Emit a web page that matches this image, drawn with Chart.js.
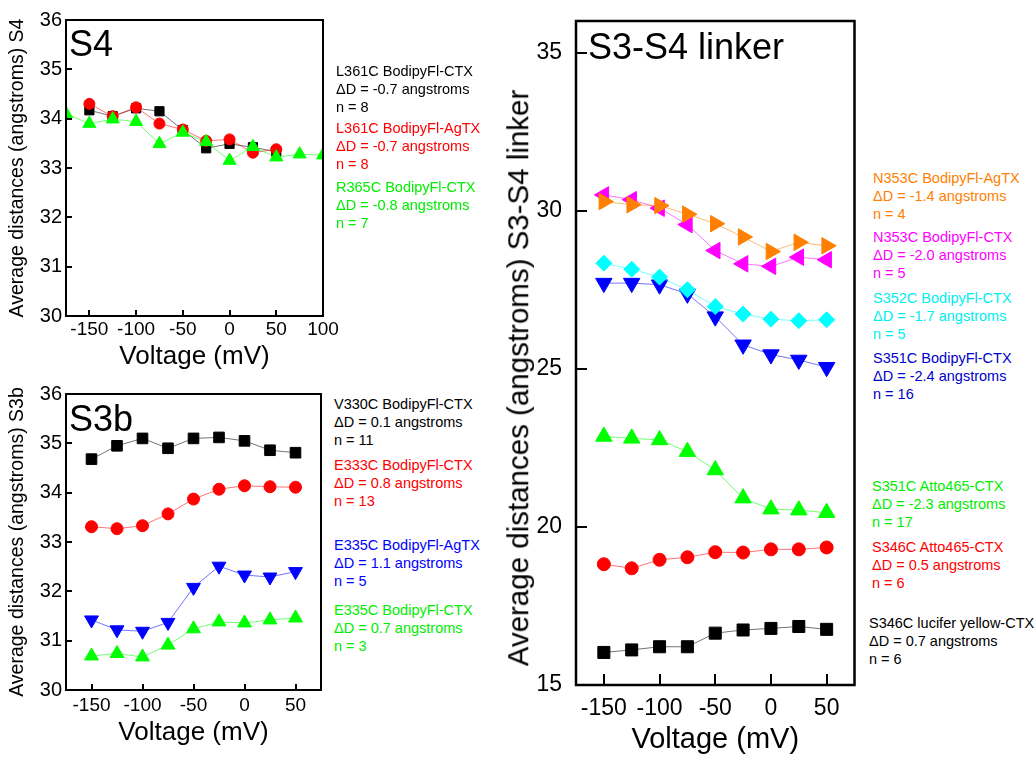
<!DOCTYPE html>
<html lang="en">
<head>
<meta charset="UTF-8">
<title>Average distances vs voltage</title>
<script src="https://cdn.jsdelivr.net/npm/chart.js"></script>
<style>
    body { margin: 0; background: #fff; font-family: "Liberation Sans", Arial, sans-serif; }
    #page { position: relative; width: 1036px; height: 760px; overflow: hidden; }
    canvas { position: absolute; }
    .tag { position: absolute; font-size: 36px; line-height: 36px; white-space: nowrap; color: #000; }
    .note { position: absolute; font-size: 14.5px; line-height: 18px; white-space: nowrap; }
    .ytitle { position: absolute; font-size: 29.5px; line-height: 1; white-space: nowrap; color: #000;
              transform: translate(-50%, -50%) rotate(-90deg); }
</style>
</head>
<body>
<div id="page">
    <canvas id="s4Chart" width="345" height="370" style="left:0;top:0"></canvas>
    <canvas id="s3bChart" width="330" height="390" style="left:0;top:370px"></canvas>
    <canvas id="linkerChart" width="375" height="760" style="left:490px;top:0"></canvas>

    <!-- panel labels -->
    <div class="tag" style="left:69px;top:26px">S4</div>
    <div class="tag" style="left:69px;top:401px">S3b</div>
    <div class="tag" style="left:588px;top:29px">S3-S4 linker</div>
    <div class="ytitle" style="left:518px;top:378px">Average distances (angstroms) S3-S4 linker</div>

    <!-- S4 notes -->
    <div class="note" style="left:336px;top:62px;color:#000">L361C BodipyFl-CTX<br>&Delta;D = -0.7 angstroms<br>n = 8</div>
    <div class="note" style="left:336px;top:119px;color:#ff0000">L361C BodipyFl-AgTX<br>&Delta;D = -0.7 angstroms<br>n = 8</div>
    <div class="note" style="left:336px;top:178px;color:#00ee00">R365C BodipyFl-CTX<br>&Delta;D = -0.8 angstroms<br>n = 7</div>

    <!-- S3b notes -->
    <div class="note" style="left:334px;top:395px;color:#000">V330C BodipyFl-CTX<br>&Delta;D = 0.1 angstroms<br>n = 11</div>
    <div class="note" style="left:334px;top:456px;color:#ff0000">E333C BodipyFl-CTX<br>&Delta;D = 0.8 angstroms<br>n = 13</div>
    <div class="note" style="left:334px;top:536px;color:#0000ff">E335C BodipyFl-AgTX<br>&Delta;D = 1.1 angstroms<br>n = 5</div>
    <div class="note" style="left:334px;top:601px;color:#00ee00">E335C BodipyFl-CTX<br>&Delta;D = 0.7 angstroms<br>n = 3</div>

    <!-- S3-S4 linker notes -->
    <div class="note" style="left:873px;top:169px;color:#ff8000">N353C BodipyFl-AgTX<br>&Delta;D = -1.4 angstroms<br>n = 4</div>
    <div class="note" style="left:873px;top:228px;color:#ff00ff">N353C BodipyFl-CTX<br>&Delta;D = -2.0 angstroms<br>n = 5</div>
    <div class="note" style="left:873px;top:289px;color:#00eeee">S352C BodipyFl-CTX<br>&Delta;D = -1.7 angstroms<br>n = 5</div>
    <div class="note" style="left:873px;top:349px;color:#0000cc">S351C BodipyFl-CTX<br>&Delta;D = -2.4 angstroms<br>n = 16</div>
    <div class="note" style="left:872px;top:477px;color:#00ee00">S351C Atto465-CTX<br>&Delta;D = -2.3 angstroms<br>n = 17</div>
    <div class="note" style="left:872px;top:538px;color:#ff0000">S346C Atto465-CTX<br>&Delta;D = 0.5 angstroms<br>n = 6</div>
    <div class="note" style="left:869px;top:614px;color:#000">S346C lucifer yellow-CTX<br>&Delta;D = 0.7 angstroms<br>n = 6</div>
</div>

<script>
    const FONT = '"Liberation Sans", Arial, sans-serif';

    // voltages (mV)
    const volts = [-150, -125, -100, -75, -50, -25, 0, 25, 50];
    const voltsWide = [-175, -150, -125, -100, -75, -50, -25, 0, 25, 50, 75, 100];

    // S4 panel
    const s4L361cCtx = [34.17, 34.05, 34.21, 34.15, 33.77, 33.40, 33.49, 33.42, 33.33];
    const s4L361cAgtx = [34.30, 34.05, 34.23, 33.90, 33.78, 33.55, 33.58, 33.31, 33.38];
    const s4R365cCtx = [34.10, 33.90, 33.99, 33.94, 33.49, 33.72, 33.53, 33.15, 33.43, 33.22, 33.28, 33.26];

    // S3b panel
    const s3bV330cCtx = [34.68, 34.95, 35.10, 34.90, 35.10, 35.12, 35.05, 34.86, 34.81];
    const s3bE333cCtx = [33.31, 33.27, 33.33, 33.57, 33.87, 34.07, 34.14, 34.12, 34.11];
    const s3bE335cAgtx = [31.42, 31.22, 31.19, 31.37, 32.08, 32.51, 32.33, 32.29, 32.40];
    const s3bE335cCtx = [30.69, 30.74, 30.67, 30.91, 31.24, 31.38, 31.36, 31.42, 31.46];

    // S3-S4 linker panel
    const lkN353cAgtx = [30.29, 30.19, 30.16, 29.89, 29.59, 29.17, 28.71, 29.00, 28.89];
    const lkN353cCtx = [30.50, 30.35, 30.08, 29.56, 28.74, 28.32, 28.24, 28.53, 28.45];
    const lkS352cCtx = [28.34, 28.15, 27.90, 27.50, 26.97, 26.73, 26.57, 26.52, 26.55];
    const lkS351cCtx = [27.71, 27.71, 27.66, 27.37, 26.65, 25.76, 25.45, 25.28, 25.05];
    const lkS351cAtto = [22.86, 22.80, 22.75, 22.38, 21.80, 20.91, 20.56, 20.53, 20.45];
    const lkS346cAtto = [18.82, 18.69, 18.96, 19.04, 19.20, 19.19, 19.29, 19.29, 19.35];
    const lkS346cLy = [16.03, 16.11, 16.21, 16.21, 16.64, 16.74, 16.79, 16.85, 16.76];

    // tick labels
    const s4XTicks = [-150, -100, -50, 0, 50, 100];
    const s3bXTicks = [-150, -100, -50, 0, 50];
    const linkerXTicks = [-150, -100, -50, 0, 50];
    const smallYTicks = [30, 31, 32, 33, 34, 35, 36];
    const linkerYTicks = [15, 20, 25, 30, 35];

    function fade(hex, a) {
        const n = parseInt(hex.slice(1), 16);
        return `rgba(${(n >> 16) & 255}, ${(n >> 8) & 255}, ${n & 255}, ${a})`;
    }

    function dots(label, xs, ys, color, style, radius, rotation) {
        return {
            label: label,
            data: xs.map((v, i) => ({ x: v, y: ys[i] })),
            showLine: true,
            borderColor: fade(color, 0.55),
            borderWidth: 1,
            pointStyle: style,
            pointRadius: radius,
            pointRotation: rotation || 0,
            pointBackgroundColor: color,
            pointBorderColor: color,
            pointBorderWidth: 1,
            tension: 0
        };
    }

    // box around the plot + inward tick marks
    const frame = {
        id: 'frame',
        afterDraw(chart, args, opts) {
            const { ctx, chartArea: a } = chart;
            const xs = chart.scales.x, ys = chart.scales.y;
            const len = opts.tickLen || 6;
            ctx.save();
            ctx.strokeStyle = '#000';
            ctx.lineWidth = 2;
            ctx.beginPath();
            xs.ticks.forEach(t => {
                const px = Math.round(xs.getPixelForValue(t.value));
                ctx.moveTo(px, a.bottom);
                ctx.lineTo(px, a.bottom - len);
            });
            ys.ticks.forEach(t => {
                const py = Math.round(ys.getPixelForValue(t.value));
                ctx.moveTo(a.left, py);
                ctx.lineTo(a.left + len, py);
            });
            ctx.stroke();
            ctx.lineWidth = opts.lineWidth || 2;
            ctx.strokeRect(a.left, a.top, a.right - a.left, a.bottom - a.top);
            ctx.restore();
        }
    };

    function makePanel(id, p) {
        return new Chart(document.getElementById(id), {
            type: 'scatter',
            data: { datasets: p.datasets },
            options: {
                responsive: false,
                animation: false,
                events: [],
                layout: { padding: { left: 0, top: p.padTop, right: p.padRight, bottom: 0 } },
                plugins: {
                    legend: { display: false },
                    tooltip: { enabled: false },
                    frame: { tickLen: p.tickLen, lineWidth: p.frameWidth }
                },
                scales: {
                    x: {
                        type: 'linear',
                        min: p.xMin,
                        max: p.xMax,
                        afterBuildTicks: s => { s.ticks = p.xTicks.map(v => ({ value: v })); },
                        afterFit: s => { s.height = p.xH; s.paddingLeft = 0; s.paddingRight = 0; },
                        grid: { display: false, drawTicks: false },
                        border: { display: false },
                        ticks: {
                            color: '#000',
                            font: { family: FONT, size: p.xTickSize, lineHeight: 1 },
                            padding: p.xTickPad,
                            maxRotation: 0,
                            autoSkip: false,
                            callback: v => String(v)
                        },
                        title: {
                            display: true,
                            text: 'Voltage (mV)',
                            color: '#000',
                            font: { family: FONT, size: p.xTitleSize, lineHeight: 1 },
                            padding: { top: 0, bottom: p.xTitlePad }
                        }
                    },
                    y: {
                        type: 'linear',
                        min: p.yMin,
                        max: p.yMax,
                        afterBuildTicks: s => { s.ticks = p.yTicks.map(v => ({ value: v })); },
                        afterFit: s => { s.width = p.yW; s.paddingTop = 0; s.paddingBottom = 0; },
                        grid: { display: false, drawTicks: false },
                        border: { display: false },
                        ticks: {
                            color: '#000',
                            font: { family: FONT, size: p.yTickSize, lineHeight: 1 },
                            padding: p.yTickPad,
                            autoSkip: false,
                            callback: v => String(v)
                        },
                        title: {
                            display: !!p.yTitle,
                            text: p.yTitle || '',
                            color: '#000',
                            font: { family: FONT, size: 19.5, lineHeight: 1 },
                            padding: { top: 8, bottom: 0 }
                        }
                    }
                }
            },
            plugins: [frame]
        });
    }

    makePanel('s4Chart', {
        datasets: [
            dots('R365C BodipyFl-CTX', voltsWide, s4R365cCtx, '#00ff00', 'triangle', 7.5),
            dots('L361C BodipyFl-AgTX', volts, s4L361cAgtx, '#ff0000', 'circle', 5.5),
            dots('L361C BodipyFl-CTX', volts, s4L361cCtx, '#000000', 'rect', 6.5)
        ],
        xMin: -175, xMax: 100, xTicks: s4XTicks,
        yMin: 30, yMax: 36, yTicks: smallYTicks,
        yTitle: 'Average distances (angstroms) S4',
        padTop: 20, padRight: 22, yW: 66, xH: 54,
        xTickSize: 19, xTickPad: 4, yTickSize: 20, yTickPad: 4,
        xTitleSize: 26, xTitlePad: 0,
        tickLen: 6, frameWidth: 2
    });

    makePanel('s3bChart', {
        datasets: [
            dots('V330C BodipyFl-CTX', volts, s3bV330cCtx, '#000000', 'rect', 7.5),
            dots('E333C BodipyFl-CTX', volts, s3bE333cCtx, '#ff0000', 'circle', 6),
            dots('E335C BodipyFl-AgTX', volts, s3bE335cAgtx, '#0000ff', 'triangle', 8, 180),
            dots('E335C BodipyFl-CTX', volts, s3bE335cCtx, '#00ff00', 'triangle', 8)
        ],
        xMin: -175, xMax: 75, xTicks: s3bXTicks,
        yMin: 30, yMax: 36, yTicks: smallYTicks,
        yTitle: 'Average distances (angstroms) S3b',
        padTop: 24, padRight: 7, yW: 66, xH: 70,
        xTickSize: 19, xTickPad: 6, yTickSize: 20, yTickPad: 4,
        xTitleSize: 26, xTitlePad: 14,
        tickLen: 6, frameWidth: 2
    });

    makePanel('linkerChart', {
        datasets: [
            dots('N353C BodipyFl-AgTX', volts, lkN353cAgtx, '#ff8000', 'triangle', 9.5, 90),
            dots('N353C BodipyFl-CTX', volts, lkN353cCtx, '#ff00ff', 'triangle', 9.5, 270),
            dots('S352C BodipyFl-CTX', volts, lkS352cCtx, '#00ffff', 'rectRot', 8),
            dots('S351C BodipyFl-CTX', volts, lkS351cCtx, '#0000ff', 'triangle', 9.5, 180),
            dots('S351C Atto465-CTX', volts, lkS351cAtto, '#00ff00', 'triangle', 9.5),
            dots('S346C Atto465-CTX', volts, lkS346cAtto, '#ff0000', 'circle', 6.5),
            dots('S346C lucifer yellow-CTX', volts, lkS346cLy, '#000000', 'rect', 8.5)
        ],
        xMin: -175, xMax: 75, xTicks: linkerXTicks,
        yMin: 15, yMax: 36, yTicks: linkerYTicks,
        yTitle: null,
        padTop: 21, padRight: 5, yW: 86, xH: 75,
        xTickSize: 23, xTickPad: 12, yTickSize: 23, yTickPad: 14,
        xTitleSize: 29, xTitlePad: 6,
        tickLen: 11, frameWidth: 2.5
    });
</script>
</body>
</html>
